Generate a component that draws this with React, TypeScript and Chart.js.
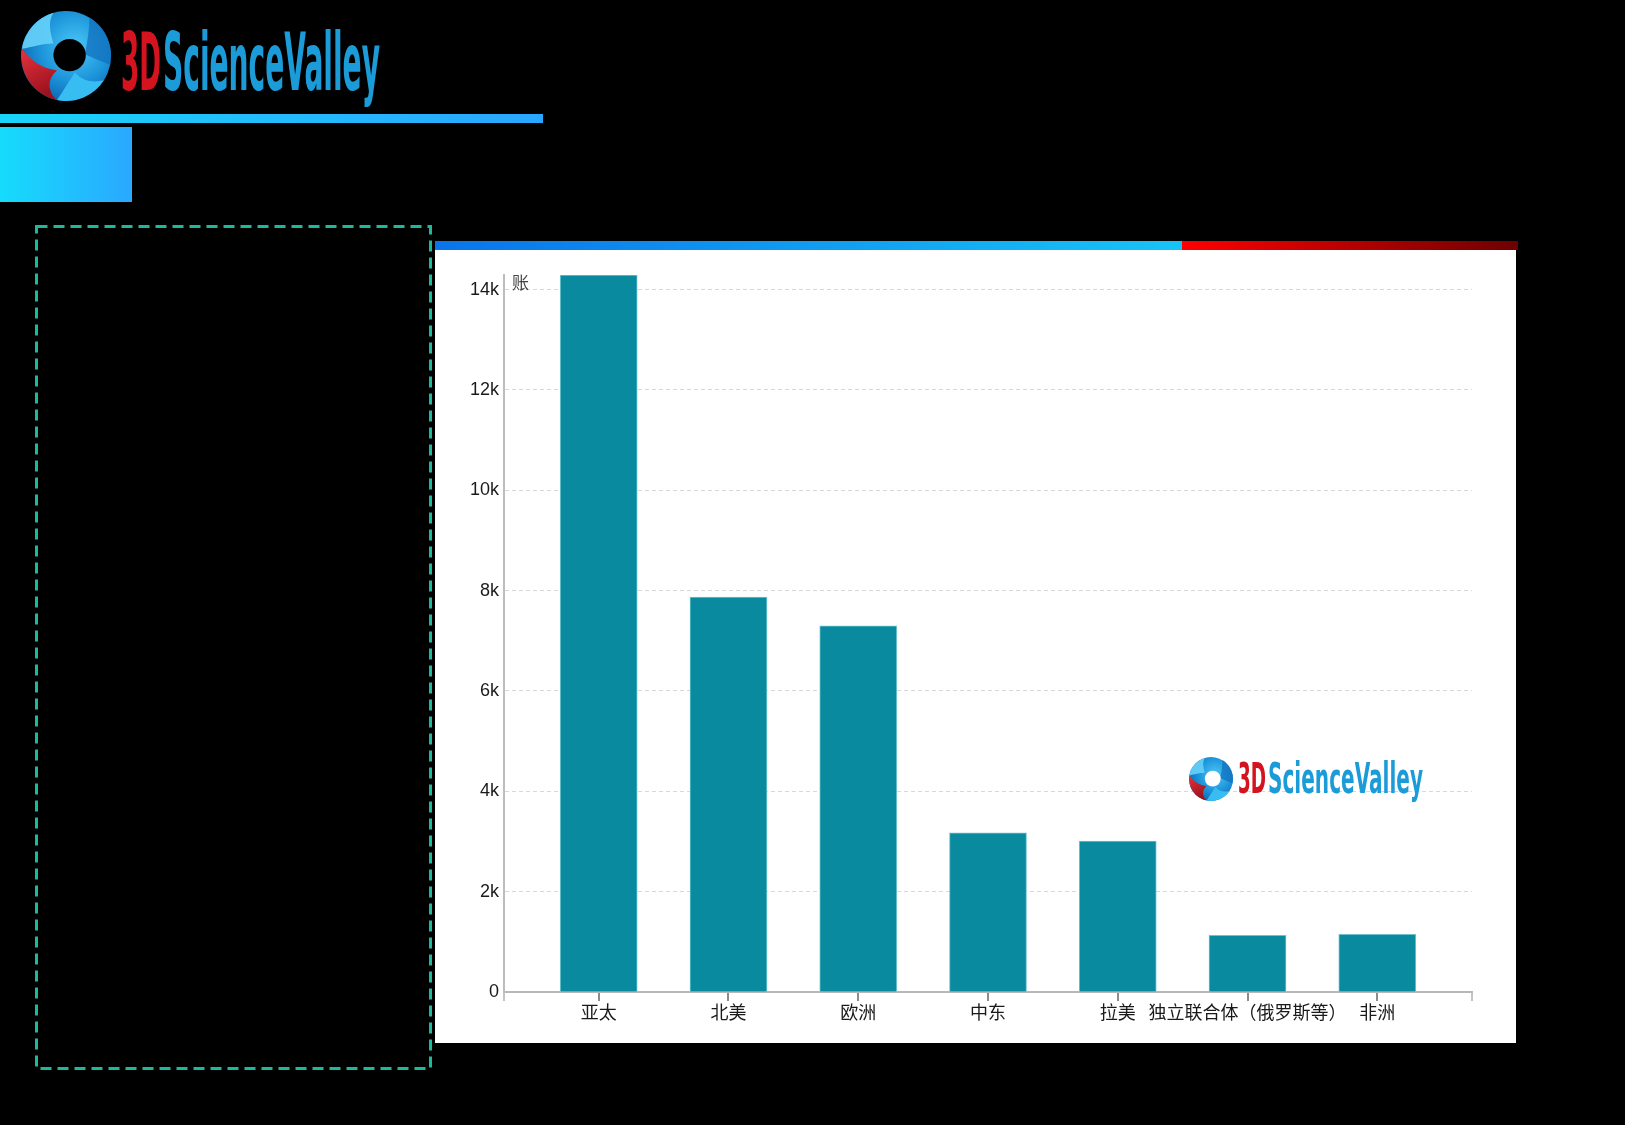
import React, { useEffect, useRef } from "react";
import { Chart, registerables } from "chart.js";

Chart.register(...registerables);

// ---- data ----
const categories: string[] = ["亚太", "北美", "欧洲", "中东", "拉美", "独立联合体（俄罗斯等）", "非洲"];
const values: number[] = [14290, 7870, 7300, 3170, 3010, 1130, 1150];
const yTicks: number[] = [0, 2000, 4000, 6000, 8000, 10000, 12000, 14000];
const yTickLabels: string[] = ["0", "2k", "4k", "6k", "8k", "10k", "12k", "14k"];
const yUnit = "账";
const xMin = -0.73;
const xMax = 6.73;

const FONT = "'Liberation Sans', 'Noto Sans CJK SC', Arial, sans-serif";

function Swirl({ cx, cy, r, hole, id }: { cx: number; cy: number; r: number; hole: string; id: string }) {
  const s = r / 50;
  return (
    <g transform={`translate(${cx},${cy}) scale(${s})`}>
      <defs>
        <radialGradient id={`bg${id}`} cx="0.6" cy="0.4" r="0.7">
          <stop offset="0%" stopColor="#4cc8f6" />
          <stop offset="55%" stopColor="#1c94da" />
          <stop offset="100%" stopColor="#0b5ca8" />
        </radialGradient>
        <linearGradient id={`rg${id}`} x1="0" y1="0" x2="0.4" y2="1">
          <stop offset="0%" stopColor="#e8323c" />
          <stop offset="100%" stopColor="#9a121e" />
        </linearGradient>
      </defs>
      <circle cx={0} cy={0} r={50} fill={`url(#bg${id})`} />
      <path d="M -14 -48 A 50 50 0 0 0 -49 -8 C -38 -10 -26 -14 -14 -14 C -18 -28 -20 -38 -14 -48 Z" fill="#66d2fa" opacity={0.9} />
      <path d="M -49 -8 A 50 50 0 0 0 -10 49 C -20 40 -22 26 -10 16 C -28 14 -40 4 -49 -8 Z" fill={`url(#rg${id})`} />
      <path d="M -10 49 A 50 50 0 0 0 42 27 C 30 30 18 28 10 18 C 2 30 -4 40 -10 49 Z" fill="#38bdf2" />
      <path d="M 26 -43 A 50 50 0 0 1 49 10 C 40 6 30 2 21 -2 C 24 -16 26 -30 26 -43 Z" fill="#1270bd" opacity={0.75} />
      <circle cx={4} cy={-1} r={18} fill={hole} />
    </g>
  );
}

function LogoText({ x, baseline, size, w3d, wRest, gap }: { x: number; baseline: number; size: number; w3d: number; wRest: number; gap: number }) {
  const ff = "'Liberation Sans Narrow', 'DejaVu Sans Condensed', 'Liberation Sans', sans-serif";
  return (
    <g>
      <text x={x} y={baseline} fontFamily={ff} fontWeight="bold" fontSize={size} fill="#d3141e" textLength={w3d} lengthAdjust="spacingAndGlyphs">
        3D
      </text>
      <text x={x + w3d + gap} y={baseline} fontFamily={ff} fontWeight="bold" fontSize={size} fill="#1b9cd8" textLength={wRest} lengthAdjust="spacingAndGlyphs">
        ScienceValley
      </text>
    </g>
  );
}

export default function App() {
  const canvasRef = useRef<HTMLCanvasElement | null>(null);

  useEffect(() => {
    if (!canvasRef.current) return;
    const unitPlugin = {
      id: "unitLabel",
      afterDraw(chart: any) {
        const { ctx, chartArea } = chart;
        ctx.save();
        ctx.font = `17px ${FONT}`;
        ctx.fillStyle = "#444";
        ctx.textAlign = "left";
        ctx.textBaseline = "middle";
        ctx.fillText(yUnit, chartArea.left + 8, chartArea.top + 9);
        ctx.restore();
      },
    };
    const chart = new Chart(canvasRef.current, {
      type: "bar",
      data: {
        datasets: [
          {
            data: values.map((v, i) => ({ x: i, y: v })),
            backgroundColor: "#0a8a9e",
            borderColor: "#6cc3cf",
            borderWidth: 1,
            barThickness: 77,
          } as any,
        ],
      },
      options: {
        animation: false,
        responsive: false,
        devicePixelRatio: 1,
        layout: { padding: { top: 25, right: 44, left: 0, bottom: 0 } },
        plugins: { legend: { display: false }, tooltip: { enabled: false } },
        scales: {
          x: {
            type: "linear",
            min: xMin,
            max: xMax,
            offset: false,
            bounds: "data",
            afterBuildTicks: (s: any) => {
              s.ticks = [xMin, ...categories.map((_, i) => i), xMax].map((v) => ({ value: v }));
            },
            afterFit: (s: any) => {
              s.height = 51;
            },
            ticks: {
              autoSkip: false,
              maxRotation: 0,
              minRotation: 0,
              padding: 2,
              color: "#1a1a1a",
              font: { size: 18, family: FONT },
              callback: (v: any) => (Number.isInteger(v) && categories[v] !== undefined ? categories[v] : ""),
            },
            grid: {
              offset: false,
              drawOnChartArea: false,
              drawTicks: true,
              tickLength: 9,
              lineWidth: 2,
              color: (ctx: any) => (ctx.tick && Number.isInteger(ctx.tick.value) ? "#8c8c8c" : "#c4c4c4"),
            },
            border: { color: "#b8b8b8", width: 2 },
          },
          y: {
            type: "linear",
            min: 0,
            max: Math.max(...values),
            bounds: "data",
            afterBuildTicks: (s: any) => {
              s.ticks = yTicks.map((v) => ({ value: v }));
            },
            afterFit: (s: any) => {
              s.width = 69;
            },
            ticks: {
              padding: 5,
              color: "#1a1a1a",
              font: { size: 18, family: FONT },
              callback: (v: any) => {
                const i = yTicks.indexOf(v);
                return i >= 0 ? yTickLabels[i] : "";
              },
            },
            grid: {
              drawTicks: false,
              color: "#d8d8d8",
              lineWidth: 1,
            },
            border: { color: "#bdbdbd", width: 2, dash: [4, 3] },
          },
        },
      } as any,
      plugins: [unitPlugin],
    });
    return () => chart.destroy();
  }, []);

  return (
    <div style={{ position: "absolute", left: 0, top: 0, width: 1625, height: 1125, background: "#000", overflow: "hidden" }}>
      <div style={{ position: "absolute", left: 0, top: 114, width: 543, height: 9, background: "linear-gradient(to right, #1ad4f8, #2aa6ff)" }} />
      <div style={{ position: "absolute", left: 0, top: 127, width: 132, height: 75, background: "linear-gradient(to right, #16dcfc, #2aa8ff)" }} />
      <div
        style={{
          position: "absolute",
          left: 435,
          top: 241,
          width: 1083,
          height: 9,
          background: "linear-gradient(to right, #0a74ea 0%, #17c4f7 69%, #ff0000 69%, #6e0000 100%)",
        }}
      />
      <div style={{ position: "absolute", left: 435, top: 250, width: 1081, height: 793, background: "#fff" }} />
      <canvas ref={canvasRef} width={1081} height={793} style={{ position: "absolute", left: 435, top: 250, width: 1081, height: 793 }} />
      <svg width={1625} height={1125} style={{ position: "absolute", left: 0, top: 0, pointerEvents: "none" }}>
        <rect x={36.5} y={226.5} width={394} height={842} fill="none" stroke="#1db99b" strokeWidth={3} strokeDasharray="11 6" />
        <Swirl cx={66} cy={56} r={45} hole="#000" id="a" />
        <LogoText x={121} baseline={90} size={80} w3d={40} wRest={217} gap={2} />
        <Swirl cx={1211} cy={779} r={22} hole="#fff" id="b" />
        <LogoText x={1238} baseline={793} size={43} w3d={28} wRest={155} gap={2} />
      </svg>
    </div>
  );
}
